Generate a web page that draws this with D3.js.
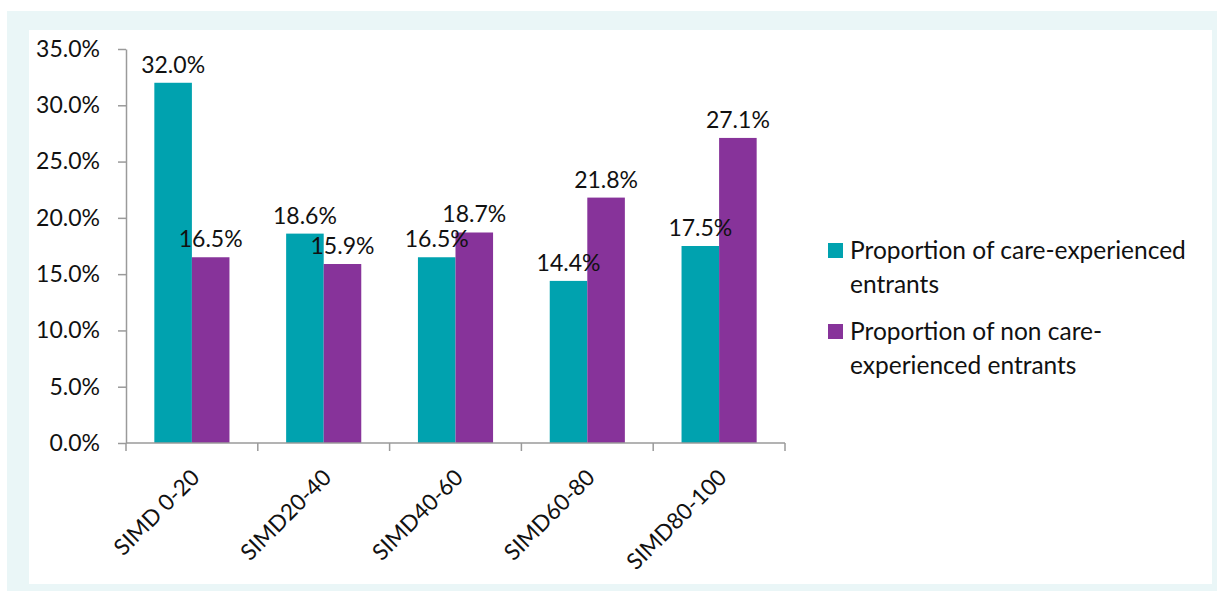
<!DOCTYPE html>
<html>
<head>
<meta charset="utf-8">
<script src="https://cdn.jsdelivr.net/npm/d3@7"></script>
<style>
  body { margin: 0; background: #fff; }
  text { font-family: Lato, "Open Sans", sans-serif; fill: #111; }
</style>
</head>
<body>
<div id="container"></div>
<script>
const categories = ["SIMD 0-20", "SIMD20-40", "SIMD40-60", "SIMD60-80", "SIMD80-100"];
const seriesNames = ["Proportion of care-experienced entrants", "Proportion of non care-experienced entrants"];
const careValues = [32.0, 18.6, 16.5, 14.4, 17.5];
const nonCareValues = [16.5, 15.9, 18.7, 21.8, 27.1];
const yTicks = [0, 5, 10, 15, 20, 25, 30, 35];
const legendLines = [["Proportion of care-experienced", "entrants"], ["Proportion of non care-", "experienced entrants"]];

const width = 1220;
const height = 594;
const colors = ["#00a2af", "#87339a"];
const tickFont = 23;
const labelFont = 22.5;
const legendFont = 24.5;

const svg = d3.select("#container")
	.append("svg")
		.attr("width", width)
		.attr("height", height);

// background frame
svg.append("rect")
	.attr("x", 7).attr("y", 11)
	.attr("width", 1210).attr("height", 580)
	.style("fill", "#eaf6f7");
svg.append("rect")
	.attr("x", 29).attr("y", 30)
	.attr("width", 1183).attr("height", 554)
	.style("fill", "#fff");

const x0 = d3.scaleBand()
	.domain(categories)
	.range([126, 785])
	.paddingInner(0.43)
	.paddingOuter(0.215);

const x1 = d3.scaleBand()
	.domain([0, 1])
	.range([0, x0.bandwidth()]);

const y = d3.scaleLinear()
	.domain([0, 35])
	.range([443, 49]);

const rows = categories.map((c, i) => ({ cat: c, vals: [careValues[i], nonCareValues[i]] }));

// bars
const groups = svg.selectAll(".grp")
	.data(rows)
	.enter()
	.append("g")
		.attr("class", "grp")
		.attr("transform", (d) => `translate(${x0(d.cat)},0)`);

groups.selectAll("rect")
	.data((d) => d.vals)
	.enter()
	.append("rect")
		.attr("x", (d, i) => x1(i))
		.attr("y", (d) => y(d))
		.attr("width", x1.bandwidth())
		.attr("height", (d) => y(0) - y(d))
		.style("fill", (d, i) => colors[i]);

groups.selectAll("text")
	.data((d) => d.vals)
	.enter()
	.append("text")
		.attr("x", (d, i) => x1(i) + x1.bandwidth() / 2)
		.attr("y", (d) => y(d) - 10)
		.attr("text-anchor", "middle")
		.style("font-size", tickFont + "px")
		.text((d) => d.toFixed(1) + "%");

// y axis
const yAxis = svg.append("g")
	.attr("transform", "translate(126,0)")
	.call(d3.axisLeft(y)
		.tickValues(yTicks)
		.tickSize(8)
		.tickSizeOuter(0)
		.tickPadding(18)
		.tickFormat((d) => d.toFixed(1) + "%"));
yAxis.selectAll("text").style("font-size", tickFont + "px").style("fill", "#111");
yAxis.selectAll("line, path").style("stroke", "#9a9a9a").style("stroke-width", 1.5);

// x axis base line and tick marks at band boundaries
const step = x0.step();
const boundaries = categories.map((c) => x0(c) - (step - x0.bandwidth()) / 2).concat([x0.range()[1]]);
svg.append("line")
	.attr("x1", 126).attr("x2", 785)
	.attr("y1", y(0)).attr("y2", y(0))
	.style("stroke", "#9a9a9a").style("stroke-width", 1.5);
svg.selectAll(".xtick")
	.data(boundaries)
	.enter()
	.append("line")
		.attr("class", "xtick")
		.attr("x1", (d) => d).attr("x2", (d) => d)
		.attr("y1", y(0)).attr("y2", y(0) + 8)
		.style("stroke", "#9a9a9a").style("stroke-width", 1.5);

svg.selectAll(".xlabel")
	.data(categories)
	.enter()
	.append("text")
		.attr("class", "xlabel")
		.attr("text-anchor", "end")
		.style("font-size", labelFont + "px")
		.attr("transform", (d) => `translate(${x0(d) + x0.bandwidth() / 2 + 9},${y(0) + 36}) rotate(-45)`)
		.text((d) => d);

// legend
const legend = svg.selectAll(".legend")
	.data(seriesNames)
	.enter()
	.append("g")
		.attr("class", "legend")
		.attr("transform", (d, i) => `translate(828,${243 + i * 81})`);

legend.append("rect")
	.attr("width", 15).attr("height", 15)
	.style("fill", (d, i) => colors[i]);

legend.append("text")
	.style("font-size", legendFont + "px")
	.attr("x", 22)
	.selectAll("tspan")
	.data((d, i) => legendLines[i])
	.enter()
	.append("tspan")
		.attr("x", 22)
		.attr("y", (d, j) => 16 + j * 34)
		.text((d) => d);
</script>
</body>
</html>
